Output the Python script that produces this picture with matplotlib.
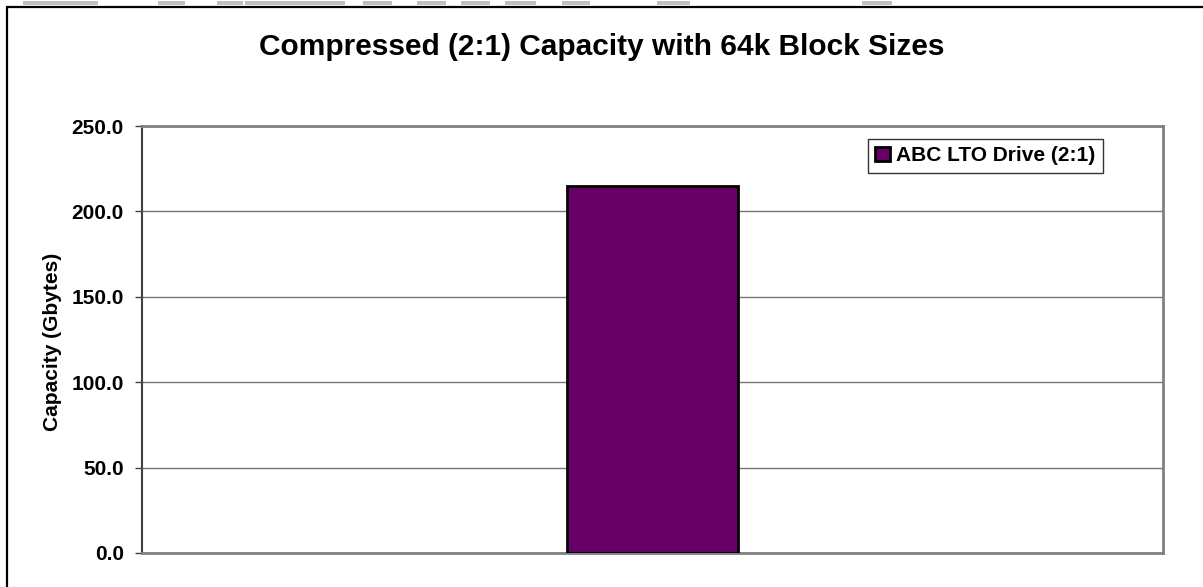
import matplotlib.pyplot as plt
from matplotlib.patches import Rectangle

plt.rcParams['font.family'] = ['Liberation Sans', 'DejaVu Sans']

categories = ['']
capacity = [214.8]
series_name = 'ABC LTO Drive (2:1)'
yticks = [0, 50, 100, 150, 200, 250]

W, H = 1203, 587
fig = plt.figure(figsize=(W / 100, H / 100), dpi=100)

# faint cut-off strip along the top edge
strips = [(23, 98), (158, 185), (217, 243), (245, 345), (363, 392), (417, 446),
          (461, 490), (505, 536), (562, 590), (657, 690), (862, 892)]
for x0, x1 in strips:
    fig.patches.append(Rectangle((x0 / W, 1 - 4.5 / H), (x1 - x0) / W, 3.5 / H,
                                 transform=fig.transFigure, color='#c0c0c0', lw=0))

# chart frame, running off the right and bottom edges
fig.patches.append(Rectangle((7 / W, -0.1), 1.2, 1.1 - 7 / H, transform=fig.transFigure,
                             fill=False, edgecolor='black', lw=1.6))

ax = fig.add_axes([142 / W, 1 - 553 / H, (1163 - 142) / W, (553 - 126) / H])
ax.bar(categories, capacity, width=0.167, color='#660066', edgecolor='black',
       linewidth=2, label=series_name, zorder=3)

ax.set_xlim(-0.5, 0.5)
ax.set_ylim(0, 250)
ax.set_yticks(yticks)
ax.set_yticklabels([f'{v:.1f}' for v in yticks], fontsize=15, fontweight='bold')
ax.set_xticks([])
ax.yaxis.grid(True, color='#000000', lw=1, alpha=0.55)
ax.set_axisbelow(True)
ax.tick_params(axis='y', length=5, width=1, color='#404040', pad=8)

for side in ['top', 'right', 'bottom']:
    ax.spines[side].set_color('#808080')
    ax.spines[side].set_linewidth(2)
ax.spines['left'].set_color('#404040')
ax.spines['left'].set_linewidth(1.5)

ax.set_ylabel('Capacity (Gbytes)', fontsize=15, fontweight='bold')
ax.yaxis.set_label_coords((62 - 142) / (1163 - 142), 0.495)
fig.text(602 / W, 1 - 47 / H,
         'Compressed (2:1) Capacity with 64k Block Sizes',
         ha='center', va='center', fontsize=21.5, fontweight='bold')

leg = ax.legend(loc='upper left', bbox_to_anchor=((868 - 142) / (1163 - 142), 1 - 13 / 427),
                frameon=True, fancybox=False, prop={'weight': 'bold', 'size': 15},
                handlelength=0.7, handleheight=0.7, handletextpad=0.3,
                borderpad=0.35, borderaxespad=0)
leg.get_frame().set_edgecolor('black')
leg.get_frame().set_linewidth(1)

fig.savefig('out.png', dpi=100)
